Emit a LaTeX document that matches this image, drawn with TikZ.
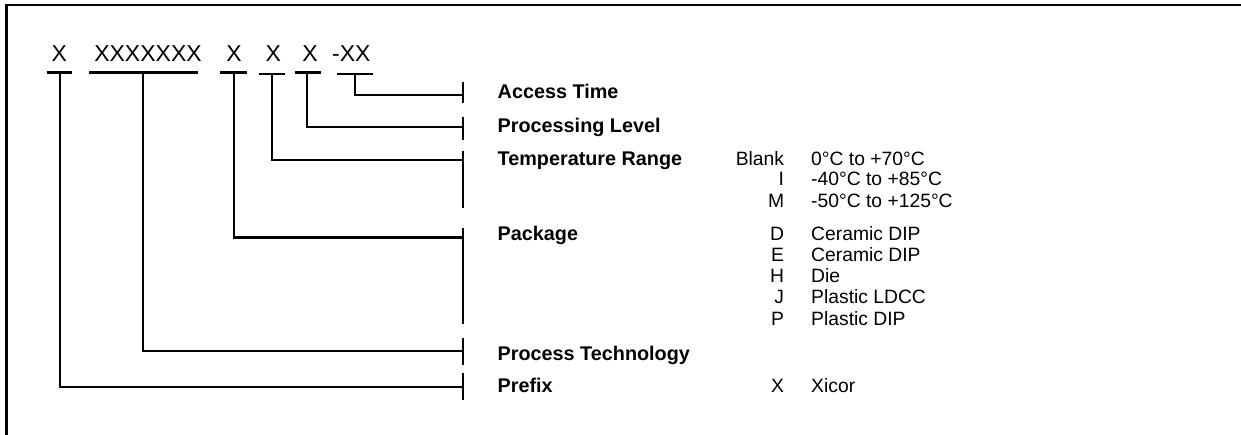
\documentclass[tikz,border=0pt]{standalone}
\usepackage{fontspec}
\setmainfont{Liberation Sans}
\begin{document}
\begin{tikzpicture}[x=1pt,y=-1pt,
  code/.style={font=\fontsize{23}{23}\selectfont, inner sep=0pt, anchor=base},
  lbl/.style={font=\fontsize{19.8}{19.8}\selectfont\bfseries, inner sep=0pt, anchor=base west},
  key/.style={font=\fontsize{19.3}{19.3}\selectfont, inner sep=0pt, anchor=base east},
  desc/.style={font=\fontsize{19.3}{19.3}\selectfont, inner sep=0pt, anchor=base west},
  rule/.style={line width=2.2pt},
  conn/.style={line width=2.2pt},
  tick/.style={line width=2.2pt},
  frame/.style={line width=2.6pt}]
\useasboundingbox (0,0) rectangle (1241,435);
% frame
\draw[frame] (6.5,437) -- (6.5,5) -- (1243,5);

% code parts
\node[code] (c1) at (59.2,61.7) {X};
\node[code] (c2) at (148,61.7) {XXXXXXX};
\node[code] (c3) at (234,61.7) {X};
\node[code] (c4) at (273.3,61.7) {X};
\node[code] (c5) at (310,61.7) {X};
\node[code,anchor=base west] (c6) at (332,61.7) {-XX};

% underlines
\draw[rule] (46.7,72.5) -- (71.7,72.5);
\draw[rule] (89.3,72.5) -- (198.3,72.5);
\draw[rule] (220,72.5) -- (246.7,72.5);
\draw[rule] (258.7,74) -- (285,74);
\draw[rule] (295,72.5) -- (320.7,72.5);
\draw[rule] (336.7,74) -- (373.3,74);

% stem start points
\coordinate (s1) at (60.3,72.5);
\coordinate (s2) at (143.3,72.5);
\coordinate (s3) at (234.3,72.5);
\coordinate (s4) at (271.7,74);
\coordinate (s5) at (307.3,72.5);
\coordinate (s6) at (355,74);

% tick points (end of connector)
\coordinate (t6) at (463,95.3);
\coordinate (t5) at (463,127.3);
\coordinate (t4) at (463,160.3);
\coordinate (t3) at (463,237.5);
\coordinate (t2) at (463,351);
\coordinate (t1) at (463,386.7);

% connectors
\draw[conn] (s6) |- (t6);
\draw[conn] (s5) |- (t5);
\draw[conn] (s4) |- (t4);
\draw[conn] (s3) |- (t3);
\draw[conn] (s2) |- (t2);
\draw[conn] (s1) |- (t1);

% ticks
\draw[tick] (463,81.7) -- (463,103.3);
\draw[tick] (463,116.7) -- (463,140);
\draw[tick] (463,150.7) -- (463,208.3);
\draw[tick] (463,228.3) -- (463,324.3);
\draw[tick] (463,338.3) -- (463,365);
\draw[tick] (463,373.3) -- (463,400);

% labels
\node[lbl] (l6) at (497.5,98.3) {Access Time};
\node[lbl] (l5) at (497.5,132.7) {Processing Level};
\node[lbl] (l4) at (497.5,166) {Temperature Range};
\node[lbl] (l3) at (497.5,240.5) {Package};
\node[lbl] (l2) at (497.5,360) {Process Technology};
\node[lbl] (l1) at (497.5,392.7) {Prefix};

% temperature options
\node[key] (kB) at (784.3,165.3) {Blank};
\node[desc] (dB) at (811,165.3) {0°C to +70°C};
\node[key] (kI) at (784.3,186) {I};
\node[desc] (dI) at (811,186) {-40°C to +85°C};
\node[key] (kM) at (784.3,207.3) {M};
\node[desc] (dM) at (811,207.3) {-50°C to +125°C};

% package options
\node[key] (kD) at (784.3,240.5) {D};
\node[desc] (dD) at (811,240.5) {Ceramic DIP};
\node[key] (kE) at (784.3,261.5) {E};
\node[desc] (dE) at (811,261.5) {Ceramic DIP};
\node[key] (kH) at (784.3,282.7) {H};
\node[desc] (dH) at (811,282.7) {Die};
\node[key] (kJ) at (784.3,304) {J};
\node[desc] (dJ) at (811,304) {Plastic LDCC};
\node[key] (kP) at (784.3,325) {P};
\node[desc] (dP) at (811,325) {Plastic DIP};

% prefix option
\node[key] (kX) at (784.3,392.7) {X};
\node[desc] (dX) at (811,392.7) {Xicor};
\end{tikzpicture}
\end{document}
